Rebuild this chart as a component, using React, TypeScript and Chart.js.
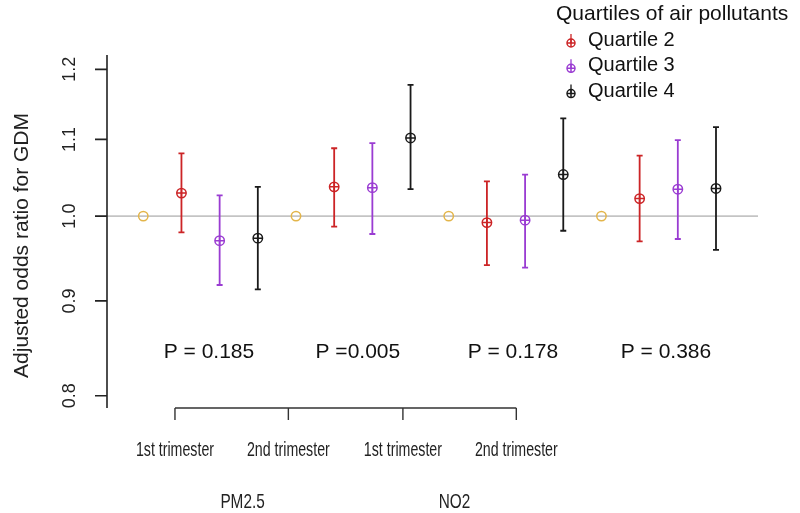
import React, { useEffect, useRef } from "react";
import { Chart, registerables } from "chart.js";

Chart.register(...registerables);

// ---------- data ----------
const pollutants = ["PM2.5", "NO2"];
const trimesters = ["1st trimester", "2nd trimester", "1st trimester", "2nd trimester"];
const pValueLabels = ["P = 0.185", "P =0.005", "P = 0.178", "P = 0.386"];
const seriesLabels = ["Quartile 2", "Quartile 3", "Quartile 4"];
const legendTitle = "Quartiles of air pollutants";
const yAxisTitle = "Adjusted odds ratio for GDM";
const yTicks = [0.8, 0.9, 1.0, 1.1, 1.2];

const referenceOR = [1, 1, 1, 1];
const q2OR = [1.029, 1.037, 0.992, 1.022];
const q2Lower = [0.98, 0.987, 0.941, 0.969];
const q2Upper = [1.081, 1.088, 1.044, 1.078];
const q3OR = [0.97, 1.036, 0.995, 1.034];
const q3Lower = [0.918, 0.978, 0.938, 0.972];
const q3Upper = [1.026, 1.095, 1.053, 1.099];
const q4OR = [0.973, 1.102, 1.053, 1.035];
const q4Lower = [0.913, 1.034, 0.982, 0.959];
const q4Upper = [1.037, 1.177, 1.129, 1.117];

// annotation positions in data units
const bracketX = [1.83, 4.8, 7.8, 10.77];
const pollutantX = [3.6, 9.15];
const pValueX = [2.72, 6.62, 10.68, 14.69];
const pValueY = 0.845;

const RED = "#CC2426";
const PURPLE = "#9A3CD2";
const BLACK = "#1A1A1A";
const GOLD = "#E3B54A";
const FONT = "'Liberation Sans', Arial, sans-serif";

export default function App() {
  const ref = useRef<HTMLCanvasElement>(null);

  useEffect(() => {
    document.body.style.margin = "0";
    const canvas = ref.current!;
    const xPos = (g: number, m: number) => 1 + g * 4 + m;

    const series = [
      { label: seriesLabels[0], color: RED, or: q2OR, lo: q2Lower, hi: q2Upper, m: 1 },
      { label: seriesLabels[1], color: PURPLE, or: q3OR, lo: q3Lower, hi: q3Upper, m: 2 },
      { label: seriesLabels[2], color: BLACK, or: q4OR, lo: q4Lower, hi: q4Upper, m: 3 },
    ];

    const drawMarker = (ctx: CanvasRenderingContext2D, x: number, y: number, r: number, color: string) => {
      ctx.save();
      ctx.strokeStyle = color;
      ctx.lineWidth = 1.5;
      ctx.beginPath();
      ctx.arc(x, y, r, 0, Math.PI * 2);
      ctx.stroke();
      ctx.beginPath();
      ctx.moveTo(x - r, y);
      ctx.lineTo(x + r, y);
      ctx.moveTo(x, y - r);
      ctx.lineTo(x, y + r);
      ctx.stroke();
      ctx.restore();
    };

    const condensed = (ctx: CanvasRenderingContext2D, text: string, x: number, y: number, sx: number) => {
      ctx.save();
      ctx.translate(x, y);
      ctx.scale(sx, 1);
      ctx.fillText(text, 0, 0);
      ctx.restore();
    };

    const plugin = {
      id: "decor",
      beforeDatasetsDraw(chart: any) {
        const ctx: CanvasRenderingContext2D = chart.ctx;
        const xs = chart.scales.x;
        const ys = chart.scales.y;
        const area = chart.chartArea;
        ctx.save();
        // reference line at 1.0
        ctx.strokeStyle = "#C4C4C4";
        ctx.lineWidth = 1.6;
        ctx.beginPath();
        const y1 = ys.getPixelForValue(1);
        ctx.moveTo(area.left, y1);
        ctx.lineTo(area.right, y1);
        ctx.stroke();
        // error bars
        ctx.lineWidth = 1.8;
        series.forEach((s) => {
          ctx.strokeStyle = s.color;
          s.or.forEach((_, g) => {
            const px = xs.getPixelForValue(xPos(g, s.m));
            const pl = ys.getPixelForValue(s.lo[g]);
            const ph = ys.getPixelForValue(s.hi[g]);
            ctx.beginPath();
            ctx.moveTo(px, pl);
            ctx.lineTo(px, ph);
            ctx.moveTo(px - 3, pl);
            ctx.lineTo(px + 3, pl);
            ctx.moveTo(px - 3, ph);
            ctx.lineTo(px + 3, ph);
            ctx.stroke();
          });
        });
        ctx.restore();
      },
      afterDatasetsDraw(chart: any) {
        const ctx: CanvasRenderingContext2D = chart.ctx;
        const xs = chart.scales.x;
        const ys = chart.scales.y;
        const area = chart.chartArea;
        ctx.save();
        // crosses inside markers
        series.forEach((s, i) => {
          const meta = chart.getDatasetMeta(i + 1);
          meta.data.forEach((pt: any) => {
            drawMarker(ctx, pt.x, pt.y, 4.7, s.color);
          });
        });

        // y axis line and ticks
        ctx.strokeStyle = "#222";
        ctx.lineWidth = 1.6;
        ctx.beginPath();
        ctx.moveTo(area.left, area.top);
        ctx.lineTo(area.left, area.bottom);
        yTicks.forEach((t) => {
          const py = ys.getPixelForValue(t);
          ctx.moveTo(area.left - 12, py);
          ctx.lineTo(area.left, py);
        });
        ctx.stroke();

        // y tick labels (rotated)
        ctx.fillStyle = "#222";
        ctx.font = `18px ${FONT}`;
        ctx.textAlign = "center";
        ctx.textBaseline = "alphabetic";
        yTicks.forEach((t) => {
          const py = ys.getPixelForValue(t);
          ctx.save();
          ctx.translate(area.left - 32, py);
          ctx.rotate(-Math.PI / 2);
          ctx.fillText(t.toFixed(1), 0, 0);
          ctx.restore();
        });

        // y title
        ctx.font = `21px ${FONT}`;
        ctx.save();
        ctx.translate(28, (area.top + area.bottom) / 2 + 14);
        ctx.rotate(-Math.PI / 2);
        ctx.fillText(yAxisTitle, 0, 0);
        ctx.restore();

        // p-values
        ctx.fillStyle = "#111";
        ctx.font = `21px ${FONT}`;
        ctx.textBaseline = "middle";
        pValueLabels.forEach((p, i) => {
          ctx.fillText(p, xs.getPixelForValue(pValueX[i]), ys.getPixelForValue(pValueY) + 1);
        });

        // bracket axis
        ctx.strokeStyle = "#333";
        ctx.lineWidth = 1.4;
        ctx.beginPath();
        const bx0 = xs.getPixelForValue(bracketX[0]);
        const bx1 = xs.getPixelForValue(bracketX[bracketX.length - 1]);
        ctx.moveTo(bx0, area.bottom);
        ctx.lineTo(bx1, area.bottom);
        bracketX.forEach((b) => {
          const px = xs.getPixelForValue(b);
          ctx.moveTo(px, area.bottom);
          ctx.lineTo(px, area.bottom + 12);
        });
        ctx.stroke();

        // trimester labels (condensed)
        ctx.fillStyle = "#222";
        ctx.font = `20px ${FONT}`;
        ctx.textBaseline = "alphabetic";
        trimesters.forEach((t, i) => {
          condensed(ctx, t, xs.getPixelForValue(bracketX[i]), area.bottom + 48, 0.71);
        });
        // pollutant labels
        ctx.font = `21px ${FONT}`;
        pollutants.forEach((p, i) => {
          condensed(ctx, p, xs.getPixelForValue(pollutantX[i]), area.bottom + 100, 0.73);
        });

        // legend
        ctx.textAlign = "left";
        ctx.fillStyle = "#111";
        ctx.font = `21px ${FONT}`;
        ctx.fillText(legendTitle, 556, 20);
        ctx.font = `20px ${FONT}`;
        series.forEach((s, i) => {
          const base = 46 + i * 25.3;
          ctx.fillStyle = "#111";
          ctx.fillText(s.label, 588, base);
          const cy = base - 3;
          ctx.strokeStyle = s.color;
          ctx.lineWidth = 1.3;
          ctx.beginPath();
          ctx.moveTo(571, cy - 9);
          ctx.lineTo(571, cy);
          ctx.stroke();
          drawMarker(ctx, 571, cy, 4, s.color);
        });

        ctx.restore();
      },
    };

    const chart = new Chart(canvas, {
      type: "scatter",
      data: {
        datasets: [
          {
            label: "Reference",
            data: referenceOR.map((v, g) => ({ x: xPos(g, 0), y: v })),
            pointStyle: "circle",
            pointRadius: 4.7,
            borderWidth: 1.5,
            borderColor: GOLD,
            backgroundColor: "rgba(0,0,0,0)",
          },
          ...series.map((s) => ({
            label: s.label,
            data: s.or.map((v, g) => ({ x: xPos(g, s.m), y: v })),
            pointStyle: "circle",
            pointRadius: 0,
            borderWidth: 1.3,
            borderColor: s.color,
            backgroundColor: "rgba(0,0,0,0)",
          })),
        ],
      },
      options: {
        responsive: false,
        animation: false,
        devicePixelRatio: 1,
        layout: { padding: { left: 107, right: 42, top: 55, bottom: 105 } },
        plugins: { legend: { display: false }, tooltip: { enabled: false } },
        scales: {
          x: { type: "linear", display: false, min: 0.05, max: 17.1 },
          y: { type: "logarithmic", display: false, min: 0.7879, max: 1.2216, bounds: "data" },
        },
      },
      plugins: [plugin],
    } as any);
    return () => chart.destroy();
  }, []);

  return <canvas ref={ref} width={800} height={513} style={{ display: "block" }} />;
}
